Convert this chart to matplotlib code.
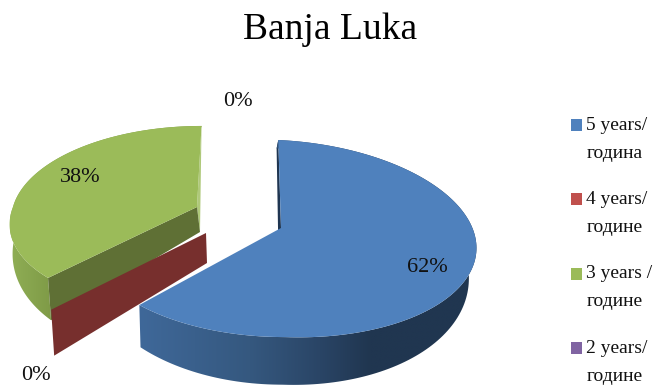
import numpy as np
import matplotlib
matplotlib.use('Agg')
import matplotlib.pyplot as plt
from matplotlib.colors import to_rgb
from matplotlib.patches import Polygon

title = 'Banja Luka'
legend_labels = ['5 years/\nгодина', '4 years/\nгодине', '3 years /\nгодине', '2 years/\nгодине']
shares = [62, 0, 38, 0]
colors = ['#4F81BD', '#C0504D', '#9BBB59', '#8064A2']

plt.rcParams['font.family'] = ['Liberation Serif', 'DejaVu Serif']

fig = plt.figure(figsize=(6.58, 3.86), dpi=100)
ax = fig.add_axes([0, 0, 1, 1])
ax.set_xlim(0, 658)
ax.set_ylim(386, 0)
ax.axis('off')

PERSP = 0.107


def project(theta, shape):
    # theta is measured clockwise from 12 o'clock, perspective makes the front bigger
    u, v = np.sin(theta), np.cos(theta)
    w = 1 + PERSP * v
    skew = np.where(v < 0, shape['skew_front'], shape['skew'])
    x = shape['ax'] + (shape['rx'] * u + skew * v) / w
    y = shape['ay'] - shape['ry'] * v / w + shape['tilt'] * np.clip(u, 0, 1)
    return x, y, v


def drop(x, y, v, shape):
    # lower edge of the slice: thicker at the front, thin at the back
    h = shape['h0'] * (1 - shape['q'] * v)
    lean = shape['lean'] * (1 - shape['taper'] * np.clip(v, 0, 1))
    dx = lean + shape['c'] * (x - shape['ax'])
    return x + dx, y + h


def face(theta, shape, color, z):
    # flat radial cut running from the centre of the slice to its rim
    x, y, v = project(theta, shape)
    ax0, ay0 = shape['ax'], shape['ay']
    bx0, by0 = drop(ax0, ay0, 0.0, shape)
    bx, by = drop(x, y, v, shape)
    ax.fill([ax0, x, bx, bx0], [ay0, y, by, by0], color=color, lw=0, zorder=z)


def rim_wall(t0, t1, shape, stops_x, stops_c, z):
    # outer wall, shaded left to right with a gradient clipped to its outline
    thetas = np.linspace(t0, t1, 160)
    x, y, v = project(thetas, shape)
    bx, by = drop(x, y, v, shape)
    pts = np.c_[np.r_[x, bx[::-1]], np.r_[y, by[::-1]]]
    outline = Polygon(pts, closed=True, transform=ax.transData, fc='none', ec='none')
    ax.add_patch(outline)
    xs = np.linspace(pts[:, 0].min(), pts[:, 0].max(), 300)
    rgb = np.array([to_rgb(c) for c in stops_c])
    grad = np.stack([np.interp(xs, stops_x, rgb[:, k]) for k in range(3)], axis=1)[None, :, :]
    im = ax.imshow(grad, extent=[xs[0], xs[-1], pts[:, 1].max(), pts[:, 1].min()],
                   aspect='auto', interpolation='bilinear', zorder=z)
    im.set_clip_path(outline)


def top(t0, t1, shape, color, z):
    thetas = np.linspace(t0, t1, 200)
    x, y, _ = project(thetas, shape)
    ax.fill(np.r_[shape['ax'], x], np.r_[shape['ay'], y], color=color, lw=0, zorder=z)


blue = dict(ax=281, ay=228, rx=194, ry=97.4, skew=-3, skew_front=-3, tilt=8,
            h0=28, q=0.7, lean=-2.5, taper=0.3, c=-0.026)
red = dict(ax=206, ay=233, rx=196, ry=97, skew=11.8, skew_front=11.8, tilt=0,
           h0=30, q=0.73, lean=1, taper=0.0, c=-0.013)
green = dict(ax=197, ay=207, rx=184, ry=89.7, skew=5, skew_front=15.6, tilt=0,
             h0=25, q=0.95, lean=3, taper=1.0, c=0.0)

# cumulative angles from the shares
edges = np.r_[0, np.cumsum(shares)] / sum(shares) * 2 * np.pi

# green slice at the back
face(edges[4], green, '#AFC97A', 1)
rim_wall(edges[2], edges[3], green, [10, 50], ['#8FAE55', '#7F9B47'], 2)
face(edges[2], green, '#5F7035', 3)
top(edges[2], edges[3], green, colors[2], 4)

# zero share: only its cut plane is visible
face(edges[1], red, '#772F2D', 5)

# blue slice in front
face(edges[0], blue, '#1F3551', 6)
rim_wall(edges[0], edges[1], blue, [140, 250, 320, 370, 476],
         ['#3F6899', '#35587F', '#2A4566', '#203650', '#203650'], 7)
top(edges[0], edges[1], blue, colors[0], 8)

ax.set_xlim(0, 658)
ax.set_ylim(386, 0)

# percentage labels
label_x = [427, 36, 80, 238]
label_y = [267, 376, 177, 101]
for val, lx, ly in zip(shares, label_x, label_y):
    ax.text(lx, ly, f'{val}%', fontsize=16, color='#111111', ha='center', va='center', zorder=10)

ax.text(330, 30, title, fontsize=27, color='black', ha='center', va='center')

# legend on the right
legend_y = [125, 199, 273.5, 348]
for lab, col, ly in zip(legend_labels, colors, legend_y):
    ax.fill([571, 582, 582, 571], [ly - 6, ly - 6, ly + 6, ly + 6], color=col, lw=0)
    line1, line2 = lab.split('\n')
    ax.text(586.5, ly + 0.5, line1, fontsize=14, color='#111111', ha='left', va='center')
    ax.text(586.5, ly + 28.5, line2, fontsize=14, color='#111111', ha='left', va='center')

fig.savefig('out.png', dpi=100)
